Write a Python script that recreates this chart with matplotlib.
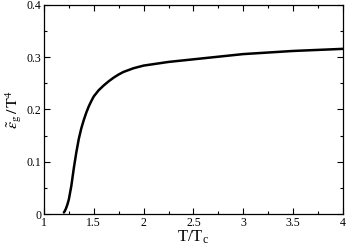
import matplotlib

matplotlib.use("Agg")
import matplotlib.pyplot as plt
from matplotlib.ticker import MultipleLocator

# curve
t_ratio = [1.20, 1.21, 1.22, 1.235, 1.25, 1.275, 1.30, 1.325, 1.35, 1.375, 1.40,
           1.425, 1.45, 1.475, 1.50, 1.55, 1.60, 1.65, 1.70, 1.75, 1.80, 1.90,
           2.00, 2.25, 2.50, 2.75, 3.00, 3.25, 3.50, 3.75, 4.00]
eps_g = [0.003, 0.006, 0.010, 0.018, 0.028, 0.054, 0.088, 0.118, 0.144, 0.164, 0.180,
         0.194, 0.206, 0.216, 0.225, 0.237, 0.246, 0.254, 0.261, 0.267, 0.272, 0.279,
         0.284, 0.291, 0.296, 0.301, 0.306, 0.309, 0.312, 0.314, 0.316]

plt.rcParams["font.family"] = ["Liberation Serif", "DejaVu Serif"]
plt.rcParams["mathtext.fontset"] = "stix"

fig = plt.figure(figsize=(3.46, 2.48), dpi=100)
ax = fig.add_axes([0.127, 0.137, 0.864, 0.843])

ax.plot(t_ratio, eps_g, color="black", linewidth=1.8, solid_capstyle="round",
        solid_joinstyle="round")

ax.set_xlim(1, 4)
ax.set_ylim(0, 0.4)
ax.xaxis.set_minor_locator(MultipleLocator(0.25))
ax.yaxis.set_minor_locator(MultipleLocator(0.05))
ax.set_xticks([1, 1.5, 2, 2.5, 3, 3.5, 4], ["1", "1.5", "2", "2.5", "3", "3.5", "4"])
ax.set_yticks([0, 0.1, 0.2, 0.3, 0.4], ["0", "0.1", "0.2", "0.3", "0.4"])
ax.tick_params(which="both", direction="in", top=True, right=True, labelsize=8.5, width=0.8)
ax.tick_params(which="major", length=4, pad=2)
ax.tick_params(which="minor", length=2)
for spine in ax.spines.values():
    spine.set_linewidth(0.9)

ax.set_xlabel(r"T/T$_\mathregular{c}$", fontsize=12, labelpad=0)
ax.set_ylabel(r"$\tilde{\varepsilon}_{\mathrm{g}}\,/\,\mathrm{T}^{4}$", fontsize=11.5)
ax.yaxis.set_label_coords(-0.066, 0.5)

fig.savefig("out.png", dpi=100)
